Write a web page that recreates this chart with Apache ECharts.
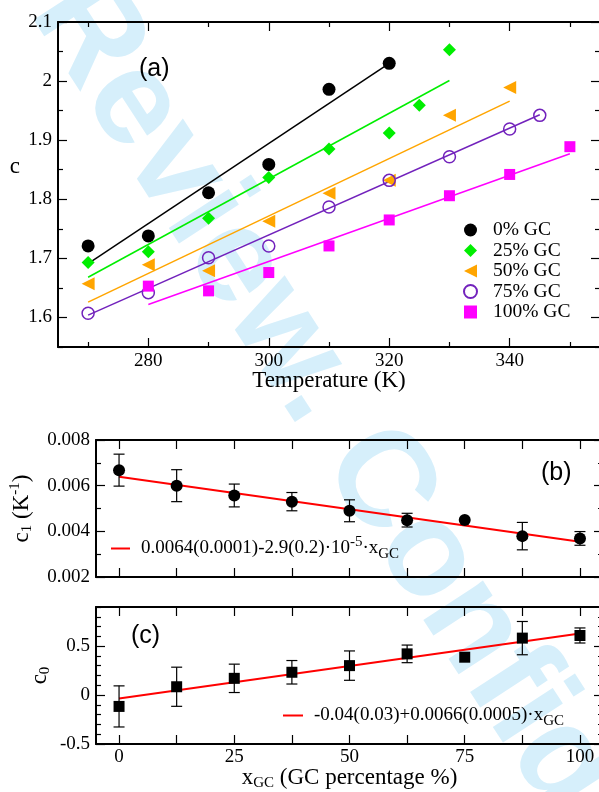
<!DOCTYPE html>
<html>
<head>
<meta charset="utf-8">
<script src="https://cdn.jsdelivr.net/npm/echarts@6/dist/echarts.min.js"></script>
<style>
  html, body { margin: 0; padding: 0; background: #fff; }
  #chart { width: 599px; height: 792px; }
</style>
</head>
<body>
<div id="chart"></div>
<script>
// panel (a): c vs temperature
const temp0 = [270, 280, 290, 300, 310, 320];
const c0GC = [1.721, 1.738, 1.811, 1.859, 1.986, 2.030];
const temp25 = [270, 280, 290, 300, 310, 320, 325, 330];
const c25GC = [1.693, 1.711, 1.768, 1.837, 1.885, 1.912, 1.959, 2.053];
const temp50 = [270, 280, 290, 300, 310, 320, 330, 340];
const c50GC = [1.657, 1.689, 1.679, 1.763, 1.810, 1.832, 1.942, 1.989];
const temp75 = [270, 280, 290, 300, 310, 320, 330, 340, 345];
const c75GC = [1.607, 1.642, 1.701, 1.721, 1.787, 1.832, 1.872, 1.919, 1.942];
const temp100 = [280, 290, 300, 310, 320, 330, 340, 350];
const c100GC = [1.653, 1.645, 1.676, 1.721, 1.765, 1.806, 1.842, 1.889];

// fitted lines, [T, c] at both ends
const fit0 = [[270, 1.691], [320, 2.030]];
const fit25 = [[270, 1.668], [330, 2.001]];
const fit50 = [[270, 1.626], [340, 1.966]];
const fit75 = [[270, 1.604], [345, 1.943]];
const fit100 = [[280, 1.622], [350, 1.877]];

// panels (b) and (c): fit parameters vs GC content
const xGC = [0, 12.5, 25, 37.5, 50, 62.5, 75, 87.5, 100];
const c1 = [0.00668, 0.0060, 0.00557, 0.0053, 0.0049, 0.00449, 0.0045, 0.00379, 0.00369];
const c1Err = [0.0007, 0.0007, 0.0005, 0.0004, 0.00048, 0.0003, 0, 0.0006, 0.0003];
const fitC1 = [[0, 0.00639], [100, 0.00354]];
const c0 = [-0.116, 0.085, 0.171, 0.233, 0.301, 0.421, 0.387, 0.582, 0.609];
const c0Err = [0.21, 0.2, 0.145, 0.12, 0.15, 0.09, 0, 0.17, 0.077];
const fitC0 = [[0, -0.034], [100, 0.63]];

// tick positions
const tempMajor = [280, 300, 320, 340];
const tempMinor = [270, 290, 310, 330, 350];
const cMajor = [1.6, 1.7, 1.8, 1.9, 2.0, 2.1];
const cMinor = [1.55, 1.65, 1.75, 1.85, 1.95, 2.05];
const gcTicks = [0, 12.5, 25, 37.5, 50, 62.5, 75, 87.5, 100];
const gcLabels = [0, 25, 50, 75, 100];
const c1Major = [0.002, 0.004, 0.006, 0.008];
const c1Minor = [0.003, 0.005, 0.007];
const c0Major = [-0.5, 0, 0.5];
const c0Minor = [-0.4, -0.3, -0.2, -0.1, 0.1, 0.2, 0.3, 0.4, 0.6, 0.7, 0.8, 0.9];

const SERIF = "'Liberation Serif', 'DejaVu Serif', serif";
const SANS = "'Liberation Sans', Arial, sans-serif";
const subSup = {
  sub: { fontFamily: SERIF, fontSize: 15, lineHeight: 15, padding: [12, 0, 0, 0], color: '#000' },
  sup: { fontFamily: SERIF, fontSize: 15, lineHeight: 15, padding: [0, 0, 12, 0], color: '#000' }
};

const xAxes = [];
const yAxes = [];

function axis(gridIndex, position, min, max, ticks, len, label, showLine, extra) {
  return Object.assign({
    type: 'value',
    gridIndex,
    position,
    min,
    max,
    splitLine: { show: false },
    axisLine: { show: showLine, onZero: false, lineStyle: { color: '#000', width: 2 } },
    axisTick: {
      show: true, inside: true, length: len, customValues: ticks,
      lineStyle: { color: '#000', width: 1.2 }
    },
    axisLabel: label
      ? Object.assign({ show: true, color: '#000', fontFamily: SERIF, fontSize: 19 }, label)
      : { show: false }
  }, extra || {});
}

// adds a mirrored pair (bottom/top or left/right), each with major + minor ticks
function addAxes(list, dim, gridIndex, min, max, major, minor, label, extra) {
  const sides = dim === 'x' ? ['bottom', 'top'] : ['left', 'right'];
  const first = list.length;
  sides.forEach((side, k) => {
    list.push(axis(gridIndex, side, min, max, major, 9, k === 0 ? label : null, true, k === 0 ? extra : null));
    if (minor.length) list.push(axis(gridIndex, side, min, max, minor, 5, null, false));
  });
  return first;
}

const xa = addAxes(xAxes, 'x', 0, 265, 355, tempMajor, tempMinor,
  { customValues: tempMajor, margin: 5 },
  {
    name: 'Temperature (K)', nameLocation: 'middle', nameGap: 22, nameMoveOverlap: false,
    nameTextStyle: { fontFamily: SERIF, fontSize: 23, color: '#000' }
  });
const ya = addAxes(yAxes, 'y', 0, 1.55, 2.1, cMajor, cMinor,
  { customValues: cMajor, margin: 6 },
  {
    name: '{c|c}', nameLocation: 'middle', nameGap: 38, nameRotate: 0, nameMoveOverlap: false,
    nameTextStyle: {
      fontFamily: SERIF, fontSize: 23, color: '#000',
      rich: { c: { fontFamily: SERIF, fontSize: 23, color: '#000', padding: [0, 0, 35, 0] } }
    }
  });
const xb = addAxes(xAxes, 'x', 1, -5, 105, gcTicks, [], null);
const yb = addAxes(yAxes, 'y', 1, 0.002, 0.008, c1Major, c1Minor,
  { customValues: c1Major, margin: 6 },
  {
    name: 'c{sub|1} (K{sup|-1})', nameLocation: 'middle', nameGap: 63, nameMoveOverlap: false,
    nameTextStyle: { fontFamily: SERIF, fontSize: 23, color: '#000', rich: subSup }
  });
const xc = addAxes(xAxes, 'x', 2, -5, 105, gcTicks, [],
  { customValues: gcLabels, margin: 4 },
  {
    name: 'x{sub|GC} (GC percentage %)', nameLocation: 'middle', nameGap: 22, nameMoveOverlap: false,
    nameTextStyle: { fontFamily: SERIF, fontSize: 23, color: '#000', rich: subSup }
  });
const yc = addAxes(yAxes, 'y', 2, -0.5, 0.9, c0Major, c0Minor,
  { customValues: c0Major, margin: 6 },
  {
    name: 'c{sub|0}', nameLocation: 'middle', nameGap: 45, nameMoveOverlap: false,
    nameTextStyle: { fontFamily: SERIF, fontSize: 23, color: '#000', rich: subSup }
  });

function errorBars(xs, ys, errs, xi, yi) {
  return {
    type: 'custom',
    xAxisIndex: xi,
    yAxisIndex: yi,
    z: 3,
    encode: { x: 0, y: 1 },
    data: xs.map((x, i) => [x, ys[i], errs[i]]),
    renderItem(params, api) {
      const x = api.value(0), y = api.value(1), e = api.value(2);
      if (!e) return null;
      const top = api.coord([x, y + e]);
      const bot = api.coord([x, y - e]);
      const w = 5.5;
      const st = { stroke: '#000', lineWidth: 1.2 };
      return {
        type: 'group',
        children: [
          { type: 'line', shape: { x1: top[0], y1: top[1], x2: bot[0], y2: bot[1] }, style: st },
          { type: 'line', shape: { x1: top[0] - w, y1: top[1], x2: top[0] + w, y2: top[1] }, style: st },
          { type: 'line', shape: { x1: bot[0] - w, y1: bot[1], x2: bot[0] + w, y2: bot[1] }, style: st }
        ]
      };
    }
  };
}

function fitLine(name, data, color, width, xi, yi) {
  return {
    name, type: 'line', data, xAxisIndex: xi, yAxisIndex: yi,
    symbol: 'none', z: 2, lineStyle: { color, width }, itemStyle: { color }
  };
}

function dots(name, xs, ys, symbol, size, itemStyle, xi, yi, rotate) {
  return {
    name, type: 'scatter', xAxisIndex: xi, yAxisIndex: yi, z: 4,
    symbol, symbolSize: size, symbolRotate: rotate || 0,
    itemStyle: Object.assign({ opacity: 1 }, itemStyle),
    data: xs.map((x, i) => [x, ys[i]])
  };
}

const GREEN = '#00ee00', ORANGE = '#ffa500', INDIGO = '#7222bc', MAGENTA = '#ff00ff';
// left-pointing triangle for the 50% GC legend entry
const LEFT_TRIANGLE = 'path://M0,5L10,0L10,10Z';

const chart = echarts.init(document.getElementById('chart'), null, { renderer: 'canvas' });
chart.setOption({
  animation: false,
  backgroundColor: '#fff',
  grid: [
    { left: 58, top: 22, width: 542, height: 325, outerBoundsMode: 'none', containLabel: false },
    { left: 96, top: 440, width: 507, height: 137, outerBoundsMode: 'none', containLabel: false },
    { left: 96, top: 607, width: 507, height: 137, outerBoundsMode: 'none', containLabel: false }
  ],
  xAxis: xAxes,
  yAxis: yAxes,
  graphic: [{
    type: 'text', x: 60, y: -8, rotation: -57 * Math.PI / 180, z: -10, silent: true,
    style: {
      text: 'Review. Confidential', fill: '#d6effb',
      font: 'bold 135px "Liberation Sans"', align: 'left', verticalAlign: 'middle'
    }
  }],
  title: [
    { text: '(a)', left: 139, top: 57, padding: 0,
      textStyle: { fontFamily: SANS, fontSize: 25, fontWeight: 'normal', color: '#000' } },
    { text: '(b)', left: 541, top: 461, padding: 0,
      textStyle: { fontFamily: SANS, fontSize: 25, fontWeight: 'normal', color: '#000' } },
    { text: '(c)', left: 131, top: 624, padding: 0,
      textStyle: { fontFamily: SANS, fontSize: 25, fontWeight: 'normal', color: '#000' } }
  ],
  legend: [
    {
      orient: 'vertical', left: 463, top: 220, itemWidth: 13, itemHeight: 13, itemGap: 0.5,
      padding: 0, selectedMode: false,
      textStyle: { fontFamily: SERIF, fontSize: 19.5, color: '#000', lineHeight: 20, padding: [0, 0, 0, 11] },
      data: ['0% GC', '25% GC', { name: '50% GC', icon: LEFT_TRIANGLE }, '75% GC', '100% GC']
    },
    {
      left: 111, top: 535, itemWidth: 19, itemHeight: 2, icon: 'rect', padding: 0, selectedMode: false,
      textStyle: { fontFamily: SERIF, fontSize: 19, color: '#000', padding: [0, 0, 0, 6], rich: subSup },
      formatter: () => '0.0064(0.0001)-2.9(0.2)·10{sup|-5}·x{sub|GC}',
      data: ['c1 fit']
    },
    {
      left: 283, top: 702, itemWidth: 20, itemHeight: 2, icon: 'rect', padding: 0, selectedMode: false,
      textStyle: { fontFamily: SERIF, fontSize: 19, color: '#000', padding: [0, 0, 0, 6], rich: subSup },
      formatter: () => '-0.04(0.03)+0.0066(0.0005)·x{sub|GC}',
      data: ['c0 fit']
    }
  ],
  series: [
    fitLine('fit 0', fit0, '#000', 1.5, xa, ya),
    fitLine('fit 25', fit25, GREEN, 1.5, xa, ya),
    fitLine('fit 50', fit50, ORANGE, 1.5, xa, ya),
    fitLine('fit 75', fit75, INDIGO, 1.5, xa, ya),
    fitLine('fit 100', fit100, MAGENTA, 1.5, xa, ya),
    dots('0% GC', temp0, c0GC, 'circle', 13, { color: '#000' }, xa, ya),
    dots('25% GC', temp25, c25GC, 'diamond', 13, { color: GREEN }, xa, ya),
    dots('50% GC', temp50, c50GC, 'triangle', 13, { color: ORANGE }, xa, ya, 90),
    dots('75% GC', temp75, c75GC, 'circle', 12,
      { color: 'rgba(255,255,255,0)', borderColor: INDIGO, borderWidth: 1.5 }, xa, ya),
    dots('100% GC', temp100, c100GC, 'rect', 11, { color: MAGENTA }, xa, ya),

    errorBars(xGC, c1, c1Err, xb, yb),
    fitLine('c1 fit', fitC1, '#ff0000', 2, xb, yb),
    dots('c1', xGC, c1, 'circle', 12, { color: '#000' }, xb, yb),

    errorBars(xGC, c0, c0Err, xc, yc),
    fitLine('c0 fit', fitC0, '#ff0000', 2, xc, yc),
    dots('c0', xGC, c0, 'rect', 11, { color: '#000' }, xc, yc)
  ]
});
</script>
</body>
</html>
